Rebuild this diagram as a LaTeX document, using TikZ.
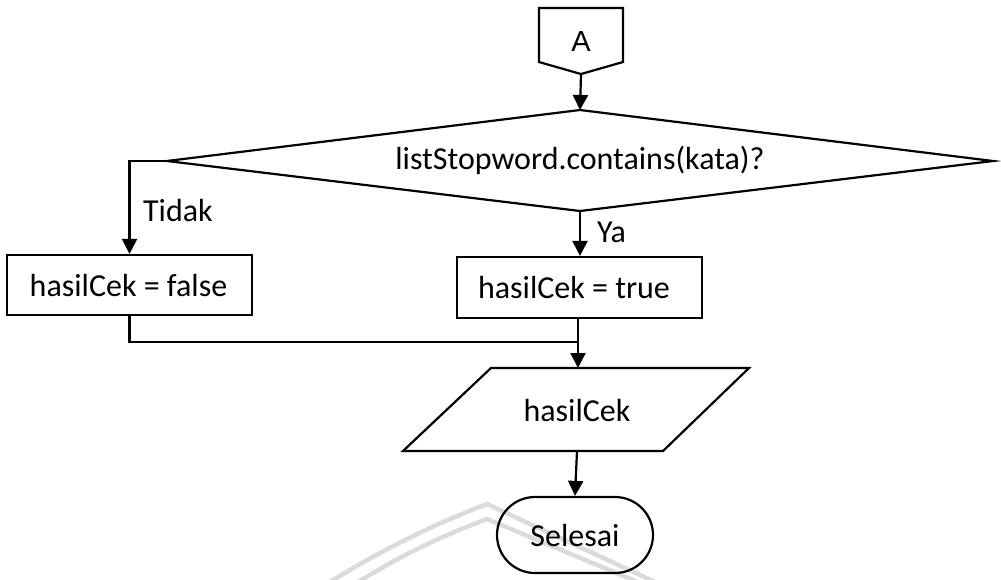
\documentclass[tikz,border=0pt]{standalone}
\usepackage{fontspec}
\setmainfont{Carlito}
\newfontfamily\arialfont{Liberation Sans}
\usetikzlibrary{arrows.meta,shapes.geometric}

\begin{document}
\begin{tikzpicture}[x=1pt,y=-1pt,
    line width=2.2pt,
    every node/.style={font=\fontsize{32}{38}\selectfont},
    arr/.style={-{Triangle[length=15pt,width=15pt]}},
    procbox/.style={draw,rectangle,inner sep=0pt},
    termbox/.style={draw,rectangle,rounded corners=38pt,inner sep=0pt,
        minimum width=156pt,minimum height=76pt},
    lbl/.style={inner sep=0pt,anchor=west},
    emblem/.style={draw=black!14,line width=4.5pt}]
  \useasboundingbox (0,0) rectangle (1001,579);

  % faint emblem lines behind the terminal
  \draw[emblem] (330,582) .. controls (390,545) and (440,522) .. (487,504) -- (655,582);
  \draw[emblem] (358,582) .. controls (410,550) and (450,533) .. (487,519) -- (638,582);

  % off-page connector
  \draw (539,8) -- (623,8) -- (623,62) -- (581,74) -- (539,62) -- cycle;
  \node[font=\arialfont\fontsize{29}{34}\selectfont] (A) at (581,42) {A};
  \coordinate (Atip) at (581,74);

  % decision
  \coordinate (dT) at (580,110);
  \coordinate (dR) at (993,161);
  \coordinate (dB) at (580,211);
  \coordinate (dL) at (167,161);
  \draw (dT) -- (dR) -- (dB) -- (dL) -- cycle;
  \node (d) at (580,160) {listStopword.contains(kata)?};

  % assignments
  \node[procbox,minimum width=245pt,minimum height=60pt] (f) at (129.5,285) {};
  \node (ft) at (128.5,286) {hasilCek = false};
  \node[procbox,minimum width=245pt,minimum height=61pt] (t) at (579.5,287.5) {};
  \node (tt) at (574,288) {hasilCek = true};

  % output
  \coordinate (pTL) at (491,368);
  \coordinate (pTR) at (749,368);
  \coordinate (pBR) at (663,451);
  \coordinate (pBL) at (403,451);
  \draw (pTL) -- (pTR) -- (pBR) -- (pBL) -- cycle;
  \node (p) at (577,410) {hasilCek};
  \coordinate (pTop) at (578,368);
  \coordinate (pBot) at (577,451);

  % terminator
  \node[termbox] (e) at (575,535) {Selesai};

  % connectors
  \draw[arr] (Atip) -- (dT);
  \draw[arr] (dL) -| (f.north);
  \draw[arr] (dB) -- (dB |- t.north);
  \coordinate (join) at (578,342);
  \draw (f.south) |- (join);
  \draw[arr] (578,318) -- (pTop);
  \draw[arr] (pBot) -- (e.north);

  % branch labels
  \node[lbl] (no) at (142,211) {Tidak};
  \node[lbl] (yes) at (596,232) {Ya};
\end{tikzpicture}
\end{document}
